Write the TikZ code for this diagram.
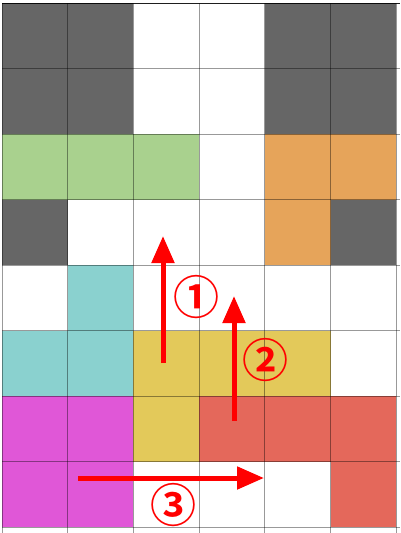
\documentclass[tikz,border=0pt]{standalone}
\usepackage{fontspec}
\newfontfamily\cjk{Noto Sans CJK JP Bold}
\usetikzlibrary{arrows.meta}
\definecolor{cgray}{HTML}{666666}
\definecolor{cgreen}{HTML}{A9D18E}
\definecolor{corange}{HTML}{E6A45A}
\definecolor{cteal}{HTML}{8AD1CF}
\definecolor{cyellow}{HTML}{E3C95A}
\definecolor{cred}{HTML}{E4685B}
\definecolor{cmag}{HTML}{E057D7}
\definecolor{arrowred}{HTML}{FF0000}
\tikzset{
  redarrow/.style={draw=arrowred, line width=5pt, -{Triangle[length=27pt,width=22pt]}},
  numlabel/.style={text=arrowred, inner sep=0pt, font=\cjk\fontsize{46}{46}\selectfont},
  gridline/.style={draw=black, draw opacity=0.4, line width=0.9pt}
}
\begin{document}
\begin{tikzpicture}[x=1pt,y=-1pt]
\useasboundingbox (0,0) rectangle (400,533);
\fill[white] (0,0) rectangle (400,533);
\def\cw{65.7}
\def\ch{65.5}
% cells: row, col, colour
\foreach \r/\c/\col in {
  0/0/cgray,0/1/cgray,0/4/cgray,0/5/cgray,
  1/0/cgray,1/1/cgray,1/4/cgray,1/5/cgray,
  2/0/cgreen,2/1/cgreen,2/2/cgreen,2/4/corange,2/5/corange,
  3/0/cgray,3/4/corange,3/5/cgray,
  4/1/cteal,
  5/0/cteal,5/1/cteal,5/2/cyellow,5/3/cyellow,5/4/cyellow,
  6/0/cmag,6/1/cmag,6/2/cyellow,6/3/cred,6/4/cred,6/5/cred,
  7/0/cmag,7/1/cmag,7/5/cred}{
  \fill[\col] ({2+\c*\cw},{3+\r*\ch}) rectangle ({2+(\c+1)*\cw},{3+(\r+1)*\ch});
}
% grid
\foreach \c in {0,...,6}{
  \draw[gridline] ({2+\c*\cw},3) -- ({2+\c*\cw},533);
}
\foreach \r in {0,...,8}{
  \draw[gridline] (2,{3+\r*\ch}) -- (400,{3+\r*\ch});
}
\draw[draw=black, draw opacity=0.8, line width=1pt] (2,3) -- (400,3);
% arrows
\coordinate (a1s) at (163,363);
\coordinate (a1e) at (163,236);
\coordinate (a2s) at (234,421);
\coordinate (a2e) at (234,296);
\coordinate (a3s) at (78,478);
\coordinate (a3e) at (264,478);
\draw[redarrow] (a1s) -- (a1e);
\draw[redarrow] (a2s) -- (a2e);
\draw[redarrow] (a3s) -- (a3e);
\node[numlabel] (n1) at (196,297) {①};
\node[numlabel] (n2) at (265,360) {②};
\node[numlabel] (n3) at (173,505) {③};
\end{tikzpicture}
\end{document}
